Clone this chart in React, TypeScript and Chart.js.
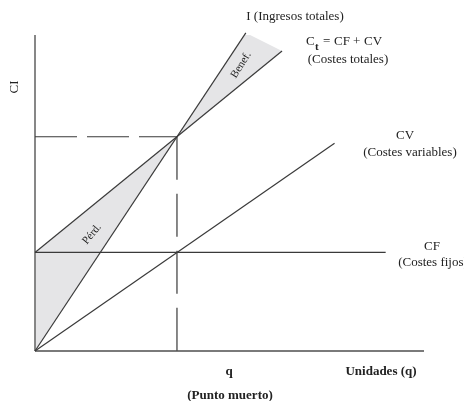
import React, { useEffect, useRef } from "react";
import { Chart, registerables } from "chart.js";

Chart.register(...registerables);

// Break-even chart data (units)
const puntoMuerto = 10; // q
const costeFijo = 9.2; // CF
const xMax = 27.4;
const yMax = 29.5;

const ingresos = [{ x: 0, y: 0 }, { x: 14.85, y: 29.7 }];
const costesTotales = [{ x: 0, y: 9.2 }, { x: 17.4, y: 28.0 }];
const costesVariables = [{ x: 0, y: 0 }, { x: 21.1, y: 19.4 }];
const costesFijos = [{ x: 0, y: costeFijo }, { x: 24.7, y: costeFijo }];
const beneficio = [{ x: 10, y: 20 }, { x: 14.85, y: 29.7 }, { x: 17.4, y: 28.0 }, { x: 10, y: 20 }];
const perdida = [{ x: 0, y: 0 }, { x: 0, y: 9.2 }, { x: 10, y: 20 }, { x: 0, y: 0 }];
const guiaHorizontal = [{ x: 0, y: 20 }, { x: puntoMuerto, y: 20 }];
const guiaVertical = [{ x: puntoMuerto, y: 20 }, { x: puntoMuerto, y: 0 }];
const ejeX = [{ x: 0, y: 0 }, { x: xMax, y: 0 }];
const ejeY = [{ x: 0, y: 0 }, { x: 0, y: yMax }];

const SERIF = '"Liberation Serif", "DejaVu Serif", serif';
const TEXT = "#222222";
const LINE = "#3a3a3a";

const labelsPlugin = {
  id: "labels",
  afterDraw(chart: any) {
    const ctx = chart.ctx as CanvasRenderingContext2D;
    ctx.save();
    ctx.fillStyle = TEXT;
    ctx.textBaseline = "middle";
    const t = (s: string, x: number, y: number, font: string, align: CanvasTextAlign = "center", rot = 0) => {
      ctx.save();
      ctx.font = font;
      ctx.textAlign = align;
      ctx.translate(x, y);
      if (rot) ctx.rotate((rot * Math.PI) / 180);
      ctx.fillText(s, 0, 0);
      ctx.restore();
    };
    const reg = `13px ${SERIF}`;
    const bold = `bold 13px ${SERIF}`;
    t("I (Ingresos totales)", 295, 17, reg);
    t("C", 306, 42, reg, "left");
    t("t", 315, 47, `bold 11px ${SERIF}`, "left");
    t("=", 323, 42, reg, "left");
    t("CF", 334, 42, reg, "left");
    t("+", 353, 42, reg, "left");
    t("CV", 364, 42, reg, "left");
    t("(Costes totales)", 348, 60, reg);
    t("CV", 405, 136, reg);
    t("(Costes variables)", 410, 153, reg);
    t("CF", 432, 247, reg);
    t("(Costes fijos)", 433, 263, reg);
    t("CI", 15, 87, reg, "center", -90);
    t("q", 229, 372, bold);
    t("Unidades (q)", 381, 372, bold);
    t("(Punto muerto)", 230, 396, bold);
    t("Benef.", 241, 65, `11px ${SERIF}`, "center", -58);
    t("Pérd.", 92, 234, `11px ${SERIF}`, "center", -50);
    ctx.restore();
  },
};

export default function App() {
  const ref = useRef<HTMLCanvasElement | null>(null);
  useEffect(() => {
    if (!ref.current) return;
    const lineDs = (data: any[], color: string, width: number, extra: any = {}) => ({
      data,
      showLine: true,
      borderColor: color,
      borderWidth: width,
      pointRadius: 0,
      fill: false,
      clip: false,
      order: 1,
      ...extra,
    });
    const chart = new Chart(ref.current, {
      type: "scatter",
      data: {
        datasets: [
          lineDs(perdida, "rgba(0,0,0,0)", 0, { fill: "shape", backgroundColor: "#e5e5e7", order: 10 }),
          lineDs(beneficio, "rgba(0,0,0,0)", 0, { fill: "shape", backgroundColor: "#e5e5e7", order: 10 }),
          lineDs(guiaHorizontal, LINE, 1.2, { borderDash: [42, 10] }),
          lineDs(guiaVertical, LINE, 1.2, { borderDash: [43, 14] }),
          lineDs(ingresos, LINE, 1.2),
          lineDs(costesTotales, LINE, 1.2),
          lineDs(costesVariables, LINE, 1.2),
          lineDs(costesFijos, LINE, 1.2),
          lineDs(ejeX, "#7a7a7a", 1.8),
          lineDs(ejeY, "#7a7a7a", 1.8),
        ],
      },
      options: {
        responsive: false,
        animation: false,
        events: [],
        layout: { padding: { left: 35, right: 40, top: 35, bottom: 50 } },
        scales: {
          x: { type: "linear", min: 0, max: xMax, display: false },
          y: { type: "linear", min: 0, max: yMax, display: false },
        },
        plugins: { legend: { display: false }, tooltip: { enabled: false } },
      },
      plugins: [labelsPlugin],
    });
    return () => chart.destroy();
  }, []);
  return (
    <div style={{ position: "fixed", left: 0, top: 0, width: 464, height: 401, background: "#fff" }}>
      <canvas ref={ref} width={464} height={401} />
    </div>
  );
}
